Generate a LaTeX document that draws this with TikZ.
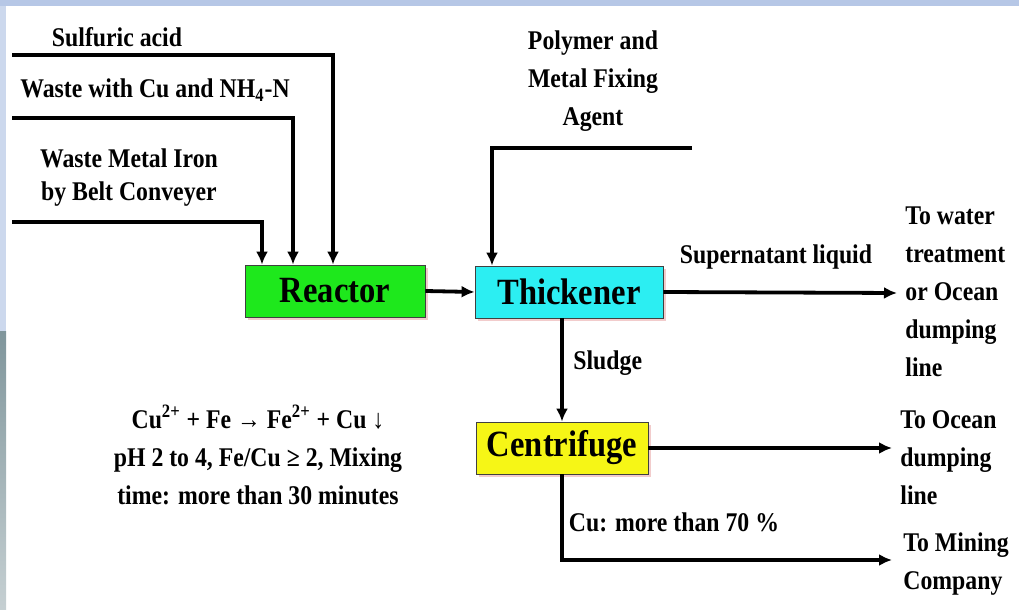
\documentclass[tikz,border=0pt]{standalone}
\usepackage{fontspec}
\setmainfont{Liberation Serif}[FakeStretch=0.88]
\usetikzlibrary{arrows.meta,positioning,shadows}
\definecolor{ReactorGreen}{RGB}{30,232,28}
\definecolor{ThickCyan}{RGB}{44,238,242}
\definecolor{CentYellow}{RGB}{246,246,22}
\definecolor{SlideBlue}{RGB}{182,199,230}
\definecolor{SlideGray}{RGB}{128,150,156}

\tikzset{
  unitbox/.style={draw=black!75,thin,inner sep=0pt,minimum height=26pt,
    font=\fontsize{18.5}{20}\selectfont\bfseries,
    drop shadow={shadow xshift=1.5pt,shadow yshift=-1.5pt,fill=red!60!gray,opacity=0.25}},
  flow/.style={-{Latex[length=6.5pt,width=6pt]},line width=1.9pt},
  lbl/.style={font=\fontsize{13.5}{19}\selectfont\bfseries,align=center,inner sep=0pt},
  outlbl/.style={lbl,align=left,anchor=west}
}

\begin{document}
\begin{tikzpicture}[x=0.5pt,y=-0.5pt,>=Latex]
  \useasboundingbox (0,0) rectangle (1019,610);
  % slide background
  \fill[SlideBlue] (0,0) rectangle (1019,6);
  \fill[SlideBlue!70] (0,6) rectangle (6,332);
  \shade[top color=SlideGray,bottom color=SlideGray!45] (0,332) rectangle (6,610);

  % units
  \node[unitbox,fill=ReactorGreen,minimum width=90pt] (reactor) at (335,291) {Reactor};
  \node[unitbox,fill=ThickCyan,minimum width=94pt] (thick) at (569,292) {Thickener};
  \node[unitbox,fill=CentYellow,minimum width=86pt] (cent) at (562,448) {Centrifuge};

  % feeds
  \node[lbl] (sulf) at (117,37) {Sulfuric acid};
  \node[lbl] (waste) at (155,90) {Waste with Cu and NH\textsubscript{4}-N};
  \node[lbl,font=\fontsize{13.5}{16.5}\selectfont\bfseries] (iron) at (129,178) {Waste Metal Iron\\by Belt Conveyer};
  \node[lbl] (poly) at (593,81) {Polymer and\\Metal Fixing\\Agent};
  \coordinate (sulfIn) at (12,55);
  \coordinate (wasteIn) at (12,118);
  \coordinate (ironIn) at (12,222);
  \coordinate (polyIn) at (692,148);

  \draw[flow] (sulfIn) -| ([xshift=-1pt]reactor.north);
  \draw[flow] (wasteIn) -| ([xshift=-21pt]reactor.north);
  \draw[flow] (ironIn) -| ([xshift=-36.5pt]reactor.north);
  \draw[flow] (polyIn) -| ([xshift=-38.5pt]thick.north);

  % process flow
  \draw[flow] (reactor.east) -- (thick.west);
  \draw[flow] (cent.north |- thick.south) -- (cent.north);
  \node[lbl,anchor=west] (sludge) at (573,363) {Sludge};

  % outlets
  \coordinate (supOut) at (897,293);
  \coordinate (oceanOut) at (892,448);
  \coordinate (mineOut) at (892,560);
  \draw[flow] (thick.east) -- (supOut);
  \draw[flow] (cent.east) -- (oceanOut);
  \draw[flow] (cent.south) |- (mineOut);
  \node[lbl] (super) at (776,257) {Supernatant liquid};
  \node[lbl] (cu) at (674,522) {Cu: more than 70 \%};
  \node[outlbl] (water) at (905,292) {To water\\treatment\\or Ocean\\dumping\\line};
  \node[outlbl] (ocean) at (900,458) {To Ocean\\dumping\\line};
  \node[outlbl] (mining) at (903,564) {To Mining\\Company};

  % reaction conditions
  \node[lbl] (chem) at (258,455) {Cu\textsuperscript{2+} + Fe → Fe\textsuperscript{2+} + Cu ↓\\pH 2 to 4, Fe/Cu ≥ 2, Mixing\\time: more than 30 minutes};
\end{tikzpicture}
\end{document}
